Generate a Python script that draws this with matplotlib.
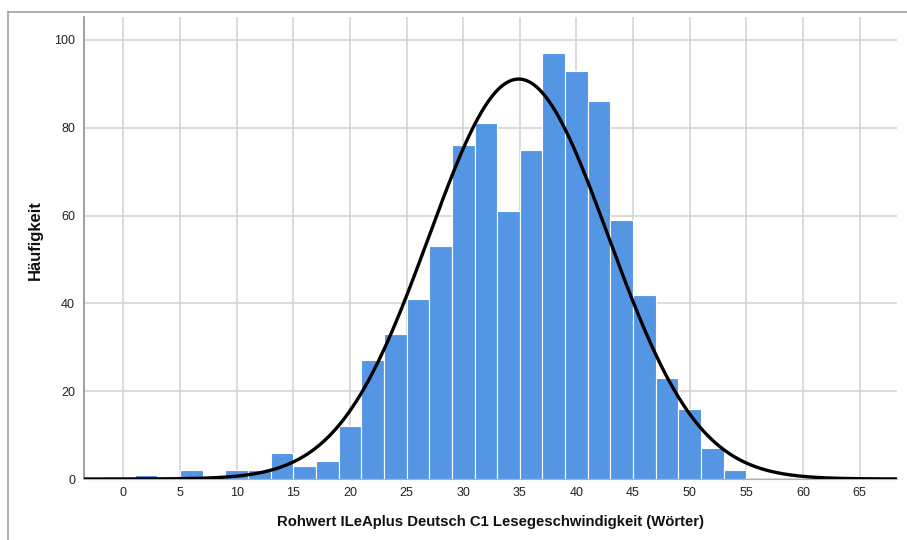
import numpy as np
import matplotlib
matplotlib.use("Agg")
import matplotlib.pyplot as plt
from matplotlib.lines import Line2D
from matplotlib import font_manager

# Histogram data (bins of width 2)
bin_edges = [1, 3, 5, 7, 9, 11, 13, 15, 17, 19, 21, 23, 25, 27, 29, 31, 33, 35,
             37, 39, 41, 43, 45, 47, 49, 51, 53, 55]
counts = [1, 0, 2, 0, 2, 2, 6, 3, 4, 12, 27, 33, 41, 53, 76, 81, 61, 75,
          97, 93, 86, 59, 42, 23, 16, 7, 2]
mean_val = 34.9
sd_val = 7.92

xticks = [0, 5, 10, 15, 20, 25, 30, 35, 40, 45, 50, 55, 60, 65]
yticks = [0, 20, 40, 60, 80, 100]
xlabel = "Rohwert ILeAplus Deutsch C1 Lesegeschwindigkeit (Wörter)"
ylabel = "Häufigkeit"

plt.rcParams['font.family'] = ['Liberation Sans', 'DejaVu Sans']
names = {f.name for f in font_manager.fontManager.ttflist}
if 'Liberation Sans Narrow' in names:
    xl_family = ['Liberation Sans Narrow', 'Liberation Sans']
    xl_size = 13
else:
    xl_family = ['Liberation Sans', 'DejaVu Sans']
    xl_size = 10.7

W, H = 907, 540
fig = plt.figure(figsize=(W / 100, H / 100), dpi=100)
ax = fig.add_axes([83.5 / W, 1 - 479 / H, (897 - 83.5) / W, (479 - 17) / H])

edges = np.array(bin_edges, dtype=float)
widths = np.diff(edges)
ax.bar(edges[:-1], counts, width=widths, align='edge', color='#5596e4',
       edgecolor='white', linewidth=0.8, zorder=2)

n_total = sum(counts)
bw = widths[0]
xs = np.linspace(-3.6, 68.5, 600)
ys = n_total * bw / (sd_val * np.sqrt(2 * np.pi)) * np.exp(-0.5 * ((xs - mean_val) / sd_val) ** 2)
ax.plot(xs, ys, color='black', lw=2.4, zorder=3, solid_capstyle='butt')

ax.set_xlim(-3.52, 68.3)
ax.set_ylim(0, 105.2)
ax.set_xticks(xticks)
ax.set_yticks(yticks)
ax.tick_params(length=0, labelsize=9, colors='#222222')
ax.tick_params(axis='x', pad=6)
ax.tick_params(axis='y', pad=6)
ax.grid(True, color='#d4d4d4', lw=1.2, zorder=0)
ax.set_axisbelow(True)
for s in ['top', 'right']:
    ax.spines[s].set_visible(False)
ax.spines['left'].set_color('#909090')
ax.spines['bottom'].set_color('#b0b0b0')
ax.spines['left'].set_linewidth(1.2)

ax.set_xlabel(xlabel, fontsize=xl_size, fontweight='bold', color='#111111', family=xl_family)
ax.set_ylabel(ylabel, fontsize=12, fontweight='bold', color='#111111')
ax.xaxis.set_label_coords(0.5, -(522 - 479) / 462, transform=ax.transAxes)
ax.xaxis.label.set_va('center')
ax.yaxis.set_label_coords(-(83.5 - 35) / 813.5, (479 - 240) / 462)
ax.yaxis.label.set_va('center')

# outer frame (left and top edges)
fig.add_artist(Line2D([8 / W, 8 / W], [0, 1 - 11.5 / H], transform=fig.transFigure, color='#a0a0a0', lw=1.2))
fig.add_artist(Line2D([8 / W, 1], [1 - 11.5 / H, 1 - 11.5 / H], transform=fig.transFigure, color='#a0a0a0', lw=1.2))

fig.savefig('out.png', dpi=100)
